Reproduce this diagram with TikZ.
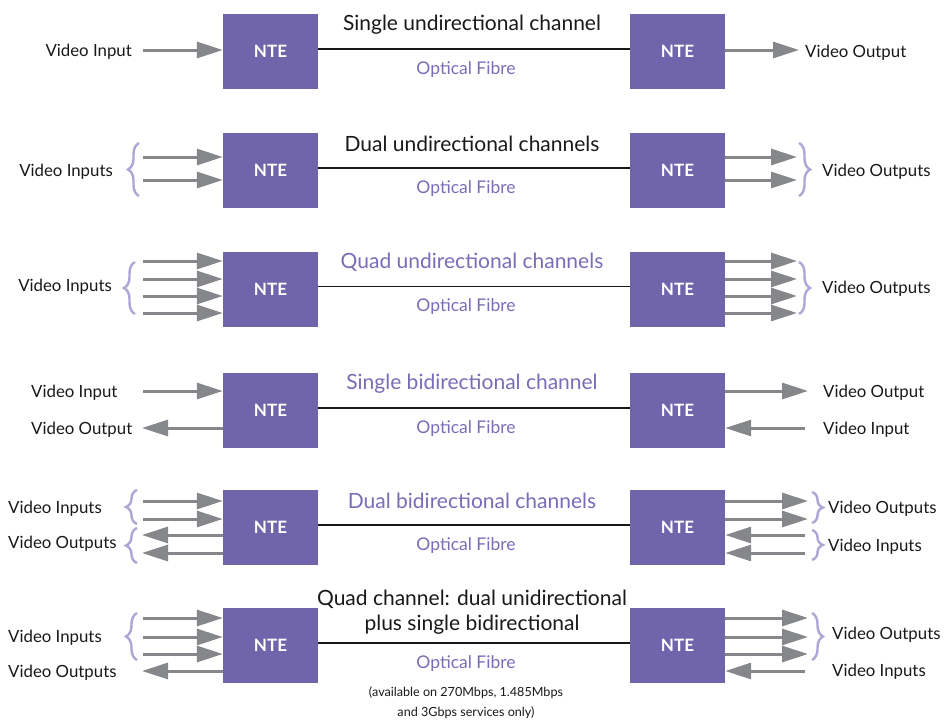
\documentclass[tikz,border=0pt]{standalone}
\usepackage{fontspec}
\setmainfont{Lato}
\usetikzlibrary{arrows.meta,decorations.pathreplacing}
\definecolor{nte}{RGB}{112,101,171}
\definecolor{ptext}{RGB}{122,108,183}
\definecolor{brc}{RGB}{175,166,214}
\definecolor{garr}{RGB}{133,135,139}
\definecolor{ink}{RGB}{25,25,25}
\begin{document}
\begin{tikzpicture}[x=1pt,y=-1pt,
  ntebox/.style={fill=nte,minimum width=95pt,minimum height=75pt,inner sep=0pt,text=white,font=\fontsize{17}{17}\selectfont\bfseries},
  garrow/.style={draw=garr,line width=3pt,-{Triangle[length=26pt,width=16pt]}},
  fibre/.style={draw=ink,line width=1.2pt},
  brc/.style={draw=brc,line width=2.4pt,decorate,decoration={brace,amplitude=11pt}},
  lbl/.style={inner sep=0pt,yshift=-2pt,text=ink,font=\fontsize{16.8}{17}\selectfont},
  ttl/.style={inner sep=0pt,yshift=-2.5pt,font=\fontsize{21}{25}\selectfont,align=center},
  fib/.style={inner sep=0pt,yshift=-2pt,text=ptext,font=\fontsize{17.5}{18}\selectfont},
  note/.style={inner sep=0pt,text=ink,font=\fontsize{12.6}{20}\selectfont,align=center}
]
\fill[white] (0,0) rectangle (949,720);
\useasboundingbox (0,0) rectangle (949,720);

% boxes
\foreach \r/\y in {1/51.5,2/170.5,3/289,4/410.5,5/527.5,6/645.5}{
  \node[ntebox] (L\r) at (270.5,\y) {NTE};
  \node[ntebox] (R\r) at (677.5,\y) {NTE};
  \draw[fibre] ([yshift=2.5pt]L\r.east) -- ([yshift=2.5pt]R\r.west);
}

% titles
\node[ttl,text=ink] (t1) at (472,22) {Single undirectional channel};
\node[ttl,text=ink] (t2) at (472,141) {Dual undirectional channels};
\node[ttl,text=ptext] (t3) at (472,260) {Quad undirectional channels};
\node[ttl,text=ptext] (t4) at (472,381) {Single bidirectional channel};
\node[ttl,text=ptext] (t5) at (472,498) {Dual bidirectional channels};
\node[ttl,text=ink] (t6) at (472,609.5) {Quad channel: dual unidirectional\\plus single bidirectional};

% optical fibre labels
\foreach \r/\y in {1/68,2/187,3/305,4/427,5/544,6/662}{
  \node[fib] (f\r) at (466,\y) {Optical Fibre};
}
\node[note] (n6) at (466,702.5) {(available on 270Mbps, 1.485Mbps\\and 3Gbps services only)};

% Row 1
\coordinate (in1a) at (143,50); \draw[garrow] (in1a) -- (in1a -| L1.west);
\coordinate (out1a) at (799,50); \draw[garrow] (R1.east |- out1a) -- (out1a);
\node[lbl,anchor=east] (l1) at (132,50) {Video Input};
\node[lbl,anchor=west] (r1) at (805,51) {Video Output};

% Row 2
\foreach \n/\y in {a/157,b/180}{
  \coordinate (in2\n) at (143,\y); \draw[garrow] (in2\n) -- (in2\n -| L2.west);
  \coordinate (out2\n) at (797,\y); \draw[garrow] (R2.east |- out2\n) -- (out2\n);
}
\draw[brc] (139,196) -- (139,143);
\draw[brc] (799,143) -- (799,196);
\node[lbl,anchor=east] (l2) at (113,170) {Video Inputs};
\node[lbl,anchor=west] (r2) at (822,170) {Video Outputs};

% Row 3
\foreach \n/\y in {a/261,b/279,c/296,d/313}{
  \coordinate (in3\n) at (143,\y); \draw[garrow] (in3\n) -- (in3\n -| L3.west);
  \coordinate (out3\n) at (797,\y); \draw[garrow] (R3.east |- out3\n) -- (out3\n);
}
\draw[brc] (135,314) -- (135,262);
\draw[brc] (799,262) -- (799,314);
\node[lbl,anchor=east] (l3) at (112,285) {Video Inputs};
\node[lbl,anchor=west] (r3) at (822,287) {Video Outputs};

% Row 4
\coordinate (in4a) at (143,391); \draw[garrow] (in4a) -- (in4a -| L4.west);
\coordinate (out4a) at (142,428); \draw[garrow] (L4.west |- out4a) -- (out4a);
\coordinate (out4b) at (808,391); \draw[garrow] (R4.east |- out4b) -- (out4b);
\coordinate (in4b) at (805,428); \draw[garrow] (in4b) -- (in4b -| R4.east);
\node[lbl,anchor=west] (l4a) at (31,391) {Video Input};
\node[lbl,anchor=west] (l4b) at (31,428) {Video Output};
\node[lbl,anchor=west] (r4a) at (823,391) {Video Output};
\node[lbl,anchor=west] (r4b) at (823,428) {Video Input};

% Row 5
\foreach \n/\y in {a/501,b/519}{
  \coordinate (in5\n) at (143,\y); \draw[garrow] (in5\n) -- (in5\n -| L5.west);
  \coordinate (out5\n) at (808,\y); \draw[garrow] (R5.east |- out5\n) -- (out5\n);
}
\foreach \n/\y in {c/535,d/553}{
  \coordinate (out5\n) at (142,\y); \draw[garrow] (L5.west |- out5\n) -- (out5\n);
  \coordinate (in5\n) at (805,\y); \draw[garrow] (in5\n) -- (in5\n -| R5.east);
}
\draw[brc] (137,524) -- (137,490);
\draw[brc] (137,563) -- (137,528);
\draw[brc] (812,492) -- (812,523);
\draw[brc] (812,530) -- (812,560);
\node[lbl,anchor=west] (l5a) at (8,507) {Video Inputs};
\node[lbl,anchor=west] (l5b) at (8,542) {Video Outputs};
\node[lbl,anchor=west] (r5a) at (828,507) {Video Outputs};
\node[lbl,anchor=west] (r5b) at (828,545) {Video Inputs};

% Row 6
\foreach \n/\y in {a/618,b/637,c/654}{
  \coordinate (in6\n) at (143,\y); \draw[garrow] (in6\n) -- (in6\n -| L6.west);
  \coordinate (out6\n) at (808,\y); \draw[garrow] (R6.east |- out6\n) -- (out6\n);
}
\coordinate (out6d) at (142,671); \draw[garrow] (L6.west |- out6d) -- (out6d);
\coordinate (in6d) at (805,671); \draw[garrow] (in6d) -- (in6d -| R6.east);
\draw[brc] (137,660) -- (137,613);
\draw[brc] (812,613) -- (812,660);
\node[lbl,anchor=west] (l6a) at (8,636) {Video Inputs};
\node[lbl,anchor=west] (l6b) at (8,671) {Video Outputs};
\node[lbl,anchor=west] (r6a) at (832,633) {Video Outputs};
\node[lbl,anchor=west] (r6b) at (832,670) {Video Inputs};
\end{tikzpicture}
\end{document}
